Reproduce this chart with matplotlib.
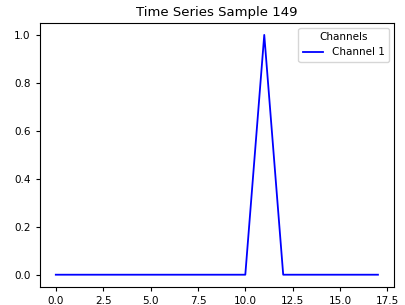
import numpy as np
import matplotlib
matplotlib.use("Agg")
import matplotlib.pyplot as plt

# data
time_steps = list(range(18))
channel_1 = [0, 0, 0, 0, 0, 0, 0, 0, 0, 0, 0, 1.0, 0, 0, 0, 0, 0, 0]

fig = plt.figure(figsize=(4.05, 3.05), dpi=100)
ax = fig.add_axes([0.098, 0.06, 0.875, 0.865])
ax.plot(time_steps, channel_1, color="blue", lw=1.3, label="Channel 1")
ax.set_title("Time Series Sample 149", fontsize=9.5, pad=5)
ax.tick_params(labelsize=7.5, length=3)
ax.legend(title="Channels", loc="upper right", fontsize=7.5, title_fontsize=7.5)

plt.savefig("out.png", dpi=100)
